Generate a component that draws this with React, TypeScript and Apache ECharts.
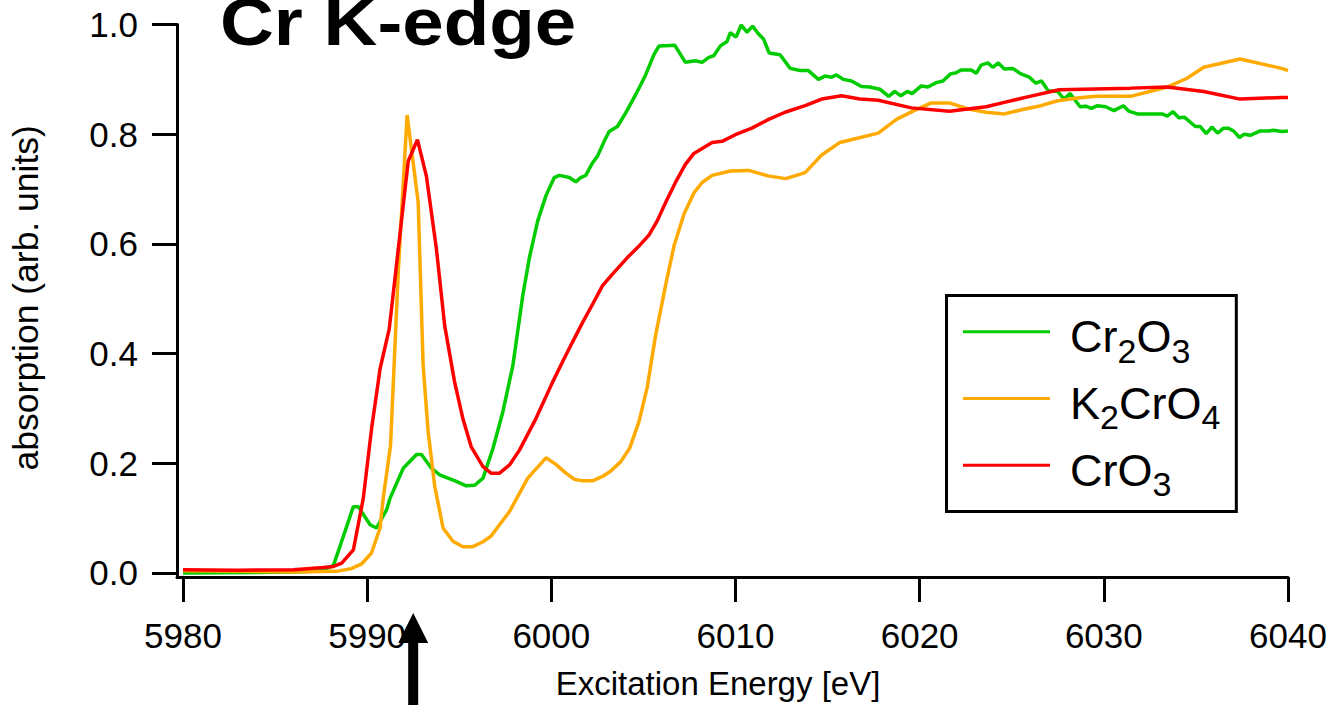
import React, { useEffect, useRef } from 'react';
import * as echarts from 'echarts';

// ---------- data ----------
const xTicks = [5980, 5990, 6000, 6010, 6020, 6030, 6040];
const yTicks = [0, 0.2, 0.4, 0.6, 0.8, 1.0];
const seriesNames = ['Cr2O3', 'K2CrO4', 'CrO3'];
const seriesColors = ['#00cc00', '#ffaa00', '#ff0000'];

const cr2o3Energy = [
  5980, 5984, 5986, 5987, 5987.63, 5988.17, 5988.71, 5989.25, 5989.52, 5990.16,
  5990.51, 5991.05, 5991.24, 5991.96, 5992.68, 5992.95, 5993.49, 5993.94, 5994.84, 5995.38,
  5995.84, 5996.29, 5996.83, 5997.37, 5997.91, 5998.45, 5998.81, 5999.26, 5999.71, 6000.16,
  6000.44, 6000.98, 6001.33, 6001.6, 6001.87, 6002.24, 6002.51, 6002.87, 6003.14, 6003.59,
  6004.04, 6004.58, 6005.12, 6005.57, 6005.85, 6006.71, 6007.28, 6007.83, 6008.19, 6008.55,
  6008.82, 6009.18, 6009.54, 6009.72, 6010.03, 6010.31, 6010.62, 6010.93, 6011.22, 6011.53,
  6011.83, 6012.42, 6012.97, 6013.51, 6013.96, 6014.5, 6014.86, 6015.22, 6015.49, 6015.85,
  6016.3, 6016.84, 6017.29, 6017.84, 6018.32, 6018.65, 6018.97, 6019.33, 6019.59, 6020.09,
  6020.45, 6020.9, 6021.26, 6021.68, 6021.98, 6022.25, 6022.8, 6023.07, 6023.34, 6023.7,
  6023.97, 6024.27, 6024.6, 6025.05, 6025.5, 6025.95, 6026.31, 6026.62, 6026.98, 6027.49,
  6027.84, 6028.17, 6028.71, 6029.02, 6029.33, 6029.65, 6030.1, 6030.55, 6031.06, 6031.36,
  6031.82, 6032.53, 6033.17, 6033.44, 6033.76, 6034.07, 6034.37, 6034.97, 6035.24, 6035.56,
  6035.87, 6036.18, 6036.5, 6036.77, 6037.04, 6037.37, 6037.62, 6037.95, 6038.49, 6038.94,
  6039.21, 6039.66, 6040,
];
const cr2o3Abs = [
  0.0, 0.001, 0.002, 0.003, 0.005, 0.014, 0.067, 0.121, 0.121, 0.088,
  0.082, 0.115, 0.136, 0.191, 0.216, 0.216, 0.191, 0.179, 0.167, 0.159,
  0.16, 0.173, 0.227, 0.294, 0.378, 0.506, 0.575, 0.642, 0.688, 0.721,
  0.725, 0.721, 0.713, 0.721, 0.725, 0.748, 0.76, 0.787, 0.805, 0.814,
  0.839, 0.872, 0.908, 0.945, 0.961, 0.962, 0.931, 0.934, 0.931, 0.94,
  0.943, 0.961, 0.969, 0.985, 0.977, 0.999, 0.986, 0.997, 0.984, 0.973,
  0.948, 0.945, 0.92, 0.916, 0.916, 0.9, 0.906, 0.904, 0.908, 0.9,
  0.897, 0.887, 0.886, 0.882, 0.869, 0.878, 0.87, 0.878, 0.874, 0.888,
  0.886, 0.894, 0.897, 0.91, 0.912, 0.917, 0.917, 0.911, 0.926, 0.93,
  0.922, 0.93, 0.919, 0.92, 0.91, 0.904, 0.893, 0.897, 0.879, 0.878,
  0.864, 0.874, 0.85, 0.851, 0.847, 0.852, 0.85, 0.843, 0.852, 0.842,
  0.837, 0.837, 0.837, 0.833, 0.841, 0.83, 0.831, 0.814, 0.814, 0.801,
  0.813, 0.802, 0.811, 0.811, 0.806, 0.794, 0.8, 0.798, 0.806, 0.806,
  0.807, 0.805, 0.806,
];

const k2cro4Energy = [
  5980, 5983, 5986, 5988.33, 5989.14, 5989.68, 5990.23, 5990.7, 5990.87, 5991.27,
  5991.69, 5992.17, 5992.77, 5993.04, 5993.31, 5993.67, 5994.12, 5994.66, 5995.2, 5995.74,
  5996.29, 5996.72, 5997.73, 5998.72, 5999.71, 6000.25, 6000.79, 6001.25, 6001.7, 6002.24,
  6002.78, 6003.23, 6003.77, 6004.26, 6004.76, 6005.21, 6005.66, 6006.2, 6006.66, 6007.2,
  6007.74, 6008.19, 6008.73, 6009.72, 6010.72, 6011.76, 6012.73, 6013.78, 6014.68, 6015.67,
  6016.67, 6017.75, 6018.74, 6019.64, 6020.63, 6021.62, 6022.62, 6023.61, 6024.6, 6025.59,
  6026.58, 6027.49, 6028.57, 6029.56, 6031.45, 6033.44, 6034.52, 6035.42, 6037.4, 6039.66,
  6040,
];
const k2cro4Abs = [
  0.004, 0.003, 0.002, 0.003, 0.008, 0.016, 0.036, 0.082, 0.136, 0.233,
  0.55, 0.835, 0.676, 0.378, 0.258, 0.158, 0.082, 0.058, 0.048, 0.048,
  0.057, 0.067, 0.112, 0.173, 0.21, 0.198, 0.182, 0.171, 0.168, 0.168,
  0.176, 0.186, 0.203, 0.228, 0.276, 0.339, 0.433, 0.524, 0.596, 0.654,
  0.693, 0.712, 0.725, 0.733, 0.734, 0.724, 0.719, 0.73, 0.762, 0.785,
  0.793, 0.802, 0.827, 0.842, 0.857, 0.857, 0.846, 0.84, 0.837, 0.845,
  0.852, 0.861, 0.866, 0.869, 0.869, 0.886, 0.902, 0.922, 0.937, 0.92,
  0.916,
];

const cro3Energy = [
  5980, 5983, 5986, 5987.63, 5988.17, 5988.62, 5989.25, 5989.79, 5990.24, 5990.7,
  5991.2, 5992.23, 5992.73, 5993.22, 5993.76, 5994.21, 5994.75, 5995.2, 5995.65, 5996.29,
  5996.73, 5997.19, 5997.73, 5998.27, 5999.17, 6000.07, 6000.61, 6001.15, 6001.7, 6002.24,
  6002.78, 6003.32, 6004.13, 6004.76, 6005.3, 6005.75, 6006.2, 6006.74, 6007.28, 6007.74,
  6008.73, 6009.27, 6009.99, 6010.89, 6011.8, 6012.69, 6013.78, 6014.68, 6015.76, 6016.75,
  6017.75, 6019.55, 6021.62, 6023.61, 6024.6, 6025.86, 6027.57, 6031.45, 6033.44, 6035.42,
  6037.4, 6039.66, 6040,
];
const cro3Abs = [
  0.006, 0.005, 0.006, 0.01, 0.012, 0.018, 0.042, 0.136, 0.263, 0.372,
  0.445, 0.751, 0.79, 0.723, 0.591, 0.451, 0.348, 0.281, 0.23, 0.194,
  0.182, 0.182, 0.197, 0.224, 0.282, 0.348, 0.385, 0.421, 0.457, 0.49,
  0.524, 0.545, 0.575, 0.596, 0.616, 0.642, 0.675, 0.712, 0.745, 0.765,
  0.785, 0.787, 0.799, 0.811, 0.827, 0.84, 0.852, 0.864, 0.87, 0.864,
  0.862, 0.848, 0.842, 0.85, 0.858, 0.868, 0.881, 0.884, 0.886, 0.878,
  0.864, 0.867, 0.867,
];

const arrowEnergy = 5992.5;
const xMin = 5979.675;
const xMax = 6040;
const yMin = -0.0073;
const yMax = 1.0;

const FONT = '"Liberation Sans", Arial, Helvetica, sans-serif';

const legendRich: Record<string, string> = {
  Cr2O3: '{n|Cr}{s|2}{n|O}{s|3}',
  K2CrO4: '{n|K}{s|2}{n|CrO}{s|4}',
  CrO3: '{n|CrO}{s|3}',
};

const pairs = (xs: number[], ys: number[]) => xs.map((x, i) => [x, ys[i]]);

export default function App() {
  const ref = useRef<HTMLDivElement>(null);

  useEffect(() => {
    if (!ref.current) return;
    const chart = echarts.init(ref.current, null, { renderer: 'svg' });
    const datasets = [
      pairs(cr2o3Energy, cr2o3Abs),
      pairs(k2cro4Energy, k2cro4Abs),
      pairs(cro3Energy, cro3Abs),
    ];
    const axisCommon = {
      type: 'value',
      axisLine: { show: true, onZero: false, lineStyle: { color: '#000', width: 3 } },
      splitLine: { show: false },
    };
    chart.setOption({
      animation: false,
      backgroundColor: '#ffffff',
      grid: { left: 173, right: 42, top: 24.5, bottom: 126, containLabel: false },
      xAxis: {
        ...axisCommon,
        min: xMin,
        max: xMax,
        axisTick: { show: true, inside: false, length: 25, customValues: xTicks, lineStyle: { color: '#000', width: 3 } },
        axisLabel: { customValues: xTicks, margin: 41, fontSize: 35, color: '#000', fontFamily: FONT, formatter: (v: number) => String(Math.round(v)) },
        name: 'Excitation Energy [eV]',
        nameLocation: 'middle',
        nameGap: 90,
        nameTextStyle: { fontSize: 33, color: '#000', fontFamily: FONT, padding: [0, 29, 0, 0] },
      },
      yAxis: {
        ...axisCommon,
        min: yMin,
        max: yMax,
        axisTick: { show: true, inside: false, length: 25, customValues: yTicks, lineStyle: { color: '#000', width: 3 } },
        axisLabel: { customValues: yTicks, margin: 39, fontSize: 35, color: '#000', fontFamily: FONT, formatter: (v: number) => v.toFixed(1) },
        name: 'absorption (arb. units)',
        nameLocation: 'middle',
        nameGap: 133,
        nameTextStyle: { fontSize: 35.5, color: '#000', fontFamily: FONT, padding: [0, 0, 0, 6] },
      },
      legend: {
        orient: 'vertical',
        left: 946.5,
        top: 295.5,
        data: seriesNames,
        icon: 'rect',
        itemWidth: 87,
        itemHeight: 3,
        itemGap: 5.1,
        padding: [10.5, 16, 10.5, 16.5],
        borderColor: '#000',
        borderWidth: 3,
        backgroundColor: '#fff',
        selectedMode: false,
        formatter: (name: string) => legendRich[name] || name,
        textStyle: {
          color: '#000',
          fontFamily: FONT,
          fontSize: 45,
          padding: [10, 0, 0, 15],
          rich: {
            n: { fontSize: 45, lineHeight: 48, fontFamily: FONT, color: '#000' },
            s: { fontSize: 34, lineHeight: 20, padding: [27.6, 0, 0, 0], fontFamily: FONT, color: '#000' },
          },
        },
      },
      series: seriesNames.map((name, i) => ({
        name,
        type: 'line',
        data: datasets[i],
        color: seriesColors[i],
        symbol: 'none',
        showSymbol: false,
        silent: true,
        lineStyle: { color: seriesColors[i], width: 3.5 },
        itemStyle: { color: seriesColors[i] },
        z: 2 + i,
      })),
    });

    const p = chart.convertToPixel({ gridIndex: 0 }, [arrowEnergy, yMin]) as number[];
    const ax = p[0];
    const tip = p[1] + 36;
    chart.setOption({
      graphic: [
        {
          type: 'text',
          x: 220,
          y: 21.6,
          scaleX: 1.13,
          style: {
            text: 'Cr K-edge',
            fontSize: 66,
            fontWeight: 'bold',
            fontFamily: FONT,
            fill: '#000',
            align: 'left',
            verticalAlign: 'middle',
          },
        },
        {
          type: 'polygon',
          shape: {
            points: [
              [ax, tip],
              [ax + 15, tip + 30],
              [ax + 5, tip + 30],
              [ax + 5, 720],
              [ax - 5, 720],
              [ax - 5, tip + 30],
              [ax - 15, tip + 30],
            ],
          },
          style: { fill: '#000' },
        },
      ],
    });

    return () => chart.dispose();
  }, []);

  return (
    <div
      ref={ref}
      style={{ position: 'fixed', left: 0, top: 0, width: 1330, height: 705, background: '#fff' }}
    />
  );
}
